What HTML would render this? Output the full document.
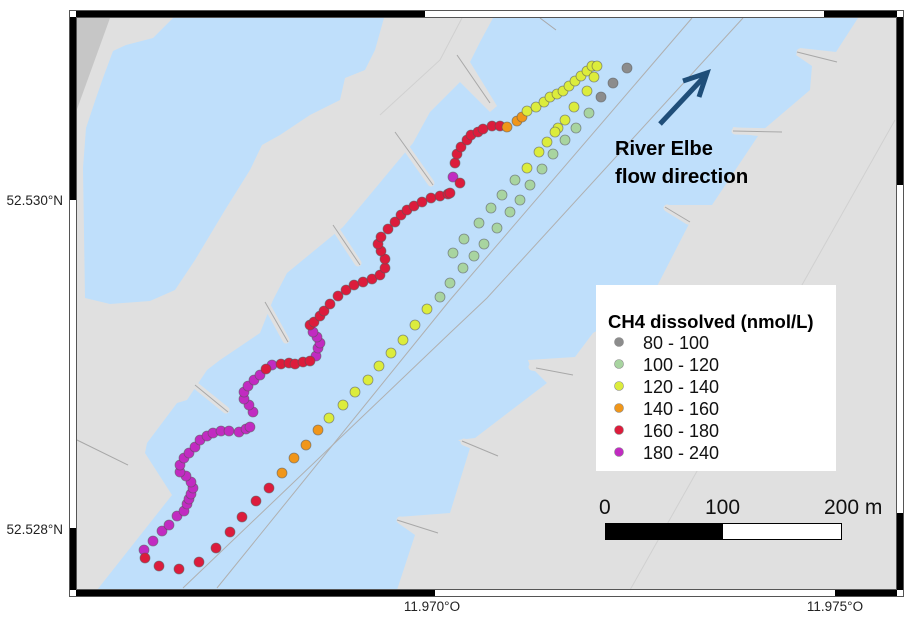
<!DOCTYPE html>
<html><head><meta charset="utf-8"><style>
html,body{margin:0;padding:0;background:#fff;}
svg{display:block;}
text{font-family:"Liberation Sans",sans-serif;}
</style></head><body>
<svg width="914" height="621" viewBox="0 0 914 621" xmlns="http://www.w3.org/2000/svg">
<rect width="914" height="621" fill="#fff"/>
<!-- map area -->
<rect x="76" y="17" width="821" height="573" fill="#e0e0e0"/>
<polygon points="76,18 110,18 76,112" fill="#c6c6c6"/>
<!-- left lake -->
<polygon points="173,18 384,18 375,50 365,70 345,78 340,100 310,115 280,135 262,145 250,170 225,210 195,260 175,290 150,301 110,304 85,298 83,168 86,128 96,98 103,78 113,51 126,45 153,38" fill="#bfdffb"/>
<!-- river -->
<polygon points="97,590 172,495 145,453 147,443 177,403 187,400 207,370 220,360 260,333 273,300 287,273 343,227 413,143 430,112 460,82 490,112 497,106 470,62 480,42 493,18 858,18 836,52 800,48 796,55 812,66 810,90 763,130 733,127 733,133 758,136 712,205 665,205 690,222 650,300 593,333 575,357 528,360 530,366 547,383 475,438 458,440 470,448 450,513 398,517 398,523 415,535 397,590" fill="#bfdffb"/>
<!-- groin wedges -->
<g stroke="#e0e0e0" stroke-width="7" stroke-linecap="round" fill="none">
<line x1="395" y1="132" x2="431" y2="183"/>
<line x1="333" y1="225" x2="358" y2="263"/>
<line x1="265" y1="302" x2="286" y2="340"/>
<line x1="195" y1="385" x2="226" y2="410"/>
<line x1="800" y1="52" x2="835" y2="61"/>
<line x1="735" y1="131" x2="780" y2="132"/>
<line x1="667" y1="208" x2="688" y2="221"/>
<line x1="532" y1="367" x2="571" y2="374"/>
<line x1="464" y1="442" x2="496" y2="455"/>
<line x1="400" y1="520" x2="436" y2="532"/>
</g>
<g stroke="#a8a8a8" stroke-width="1" fill="none">
<line x1="457" y1="55" x2="490" y2="103"/>
<line x1="395" y1="132" x2="433" y2="185"/>
<line x1="333" y1="225" x2="360" y2="265"/>
<line x1="265" y1="302" x2="288" y2="342"/>
<line x1="195" y1="385" x2="228" y2="412"/>
<line x1="797" y1="52" x2="837" y2="62"/>
<line x1="733" y1="131" x2="782" y2="132"/>
<line x1="665" y1="207" x2="690" y2="222"/>
<line x1="536" y1="368" x2="573" y2="375"/>
<line x1="462" y1="441" x2="498" y2="456"/>
<line x1="397" y1="520" x2="438" y2="533"/>
<line x1="77" y1="440" x2="128" y2="465"/>
<line x1="540" y1="18" x2="556" y2="30"/>
</g>
<g stroke="#b0b0b0" stroke-width="1" fill="none">
<polyline points="183,588 450,333 487,298 743,18"/>
<polyline points="217,588 450,300 692,18"/>
<polyline points="630,590 895,120" stroke="#d0d0d0"/>
<polyline points="380,115 440,60 462,18" stroke="#d0d0d0"/>
</g>
<!-- arrow -->
<g stroke="#1f4e79" stroke-width="5" fill="none" stroke-linecap="butt">
<line x1="660" y1="124" x2="705" y2="76"/>
<polyline points="683,81 707,73 699,97"/>
</g>
<text x="615" y="155" font-size="20" font-weight="bold" fill="#000">River Elbe</text>
<text x="615" y="183" font-size="20.5" font-weight="bold" fill="#000">flow direction</text>
<!-- dots -->
<g stroke="#555" stroke-opacity="0.6" stroke-width="0.8">
<g fill="#c12bc1">
<circle cx="144" cy="550" r="5"/><circle cx="153" cy="541" r="5"/><circle cx="162" cy="531" r="5"/><circle cx="169" cy="525" r="5"/><circle cx="177" cy="516" r="5"/><circle cx="184" cy="511" r="5"/><circle cx="187" cy="504" r="5"/><circle cx="189" cy="499" r="5"/><circle cx="191" cy="494" r="5"/><circle cx="193" cy="488" r="5"/><circle cx="191" cy="482" r="5"/><circle cx="186" cy="476" r="5"/><circle cx="180" cy="472" r="5"/><circle cx="180" cy="465" r="5"/><circle cx="184" cy="458" r="5"/><circle cx="189" cy="453" r="5"/><circle cx="195" cy="447" r="5"/><circle cx="200" cy="440" r="5"/><circle cx="207" cy="436" r="5"/><circle cx="213" cy="433" r="5"/><circle cx="221" cy="431" r="5"/><circle cx="229" cy="431" r="5"/><circle cx="239" cy="432" r="5"/><circle cx="246" cy="429" r="5"/><circle cx="250" cy="427" r="5"/><circle cx="253" cy="412" r="5"/><circle cx="249" cy="405" r="5"/><circle cx="244" cy="399" r="5"/><circle cx="244" cy="392" r="5"/><circle cx="248" cy="386" r="5"/><circle cx="254" cy="380" r="5"/><circle cx="260" cy="375" r="5"/><circle cx="272" cy="365" r="5"/>
<circle cx="316" cy="356" r="5"/><circle cx="318" cy="348" r="5"/><circle cx="320" cy="343" r="5"/><circle cx="317" cy="337" r="5"/><circle cx="313" cy="332" r="5"/><circle cx="453" cy="177" r="5"/>
</g>
<g fill="#dc1c3c">
<circle cx="266" cy="369" r="5"/><circle cx="281" cy="364" r="5"/><circle cx="289" cy="363" r="5"/><circle cx="295" cy="364" r="5"/><circle cx="303" cy="362" r="5"/><circle cx="310" cy="361" r="5"/>
<circle cx="310" cy="325" r="5"/><circle cx="314" cy="322" r="5"/><circle cx="320" cy="316" r="5"/><circle cx="324" cy="311" r="5"/><circle cx="330" cy="304" r="5"/>
<circle cx="145" cy="558" r="5"/><circle cx="159" cy="566" r="5"/><circle cx="179" cy="569" r="5"/><circle cx="199" cy="562" r="5"/><circle cx="216" cy="548" r="5"/><circle cx="230" cy="532" r="5"/><circle cx="242" cy="517" r="5"/><circle cx="256" cy="501" r="5"/><circle cx="269" cy="488" r="5"/>
<circle cx="338" cy="296" r="5"/><circle cx="346" cy="290" r="5"/><circle cx="354" cy="285" r="5"/><circle cx="363" cy="282" r="5"/><circle cx="372" cy="279" r="5"/><circle cx="380" cy="275" r="5"/><circle cx="385" cy="268" r="5"/><circle cx="385" cy="259" r="5"/><circle cx="381" cy="251" r="5"/><circle cx="378" cy="244" r="5"/><circle cx="381" cy="237" r="5"/><circle cx="388" cy="229" r="5"/><circle cx="395" cy="222" r="5"/><circle cx="401" cy="215" r="5"/><circle cx="407" cy="210" r="5"/><circle cx="414" cy="206" r="5"/><circle cx="422" cy="202" r="5"/><circle cx="431" cy="198" r="5"/><circle cx="440" cy="196" r="5"/><circle cx="448" cy="194" r="5"/><circle cx="450" cy="193" r="5"/><circle cx="460" cy="183" r="5"/><circle cx="455" cy="163" r="5"/><circle cx="457" cy="154" r="5"/><circle cx="461" cy="147" r="5"/><circle cx="467" cy="140" r="5"/><circle cx="471" cy="135" r="5"/><circle cx="478" cy="132" r="5"/><circle cx="483" cy="129" r="5"/><circle cx="492" cy="126" r="5"/><circle cx="500" cy="126" r="5"/>
</g>
<g fill="#f0961a">
<circle cx="282" cy="473" r="5"/><circle cx="294" cy="458" r="5"/><circle cx="306" cy="445" r="5"/><circle cx="318" cy="430" r="5"/>
<circle cx="507" cy="127" r="5"/><circle cx="517" cy="121" r="5"/><circle cx="522" cy="117" r="5"/>
</g>
<g fill="#dcec3c">
<circle cx="329" cy="418" r="5"/><circle cx="343" cy="405" r="5"/><circle cx="355" cy="392" r="5"/><circle cx="368" cy="380" r="5"/><circle cx="379" cy="366" r="5"/><circle cx="391" cy="353" r="5"/><circle cx="403" cy="340" r="5"/><circle cx="415" cy="325" r="5"/><circle cx="427" cy="309" r="5"/>
<circle cx="527" cy="111" r="5"/><circle cx="536" cy="107" r="5"/><circle cx="544" cy="102" r="5"/><circle cx="550" cy="97" r="5"/><circle cx="557" cy="94" r="5"/><circle cx="563" cy="91" r="5"/><circle cx="569" cy="86" r="5"/><circle cx="575" cy="81" r="5"/><circle cx="581" cy="76" r="5"/><circle cx="587" cy="71" r="5"/><circle cx="592" cy="66" r="5"/><circle cx="597" cy="66" r="5"/>
<circle cx="594" cy="77" r="5"/><circle cx="587" cy="91" r="5"/><circle cx="574" cy="107" r="5"/><circle cx="565" cy="120" r="5"/><circle cx="558" cy="128" r="5"/><circle cx="555" cy="132" r="5"/><circle cx="547" cy="142" r="5"/><circle cx="539" cy="152" r="5"/><circle cx="527" cy="168" r="5"/>
</g>
<g fill="#a8d4a0">
<circle cx="589" cy="113" r="5"/><circle cx="576" cy="128" r="5"/><circle cx="565" cy="140" r="5"/><circle cx="553" cy="154" r="5"/><circle cx="542" cy="169" r="5"/><circle cx="530" cy="185" r="5"/><circle cx="515" cy="180" r="5"/><circle cx="502" cy="195" r="5"/><circle cx="520" cy="200" r="5"/><circle cx="491" cy="208" r="5"/><circle cx="510" cy="212" r="5"/><circle cx="479" cy="223" r="5"/><circle cx="497" cy="228" r="5"/><circle cx="464" cy="239" r="5"/><circle cx="484" cy="244" r="5"/><circle cx="453" cy="253" r="5"/><circle cx="474" cy="256" r="5"/><circle cx="463" cy="268" r="5"/><circle cx="450" cy="283" r="5"/><circle cx="440" cy="297" r="5"/>
</g>
<g fill="#8c8c8c">
<circle cx="627" cy="68" r="5"/><circle cx="613" cy="83" r="5"/><circle cx="601" cy="97" r="5"/>
</g>
</g>
<!-- legend -->
<rect x="596" y="285" width="240" height="186" fill="#fff"/>
<text x="608" y="328" font-size="18.5" font-weight="bold">CH4 dissolved (nmol/L)</text>
<g stroke="#888" stroke-width="0.6">
<circle cx="619" cy="342" r="4.5" fill="#8c8c8c"/>
<circle cx="619" cy="364" r="4.5" fill="#a8d4a0"/>
<circle cx="619" cy="386" r="4.5" fill="#dcec3c"/>
<circle cx="619" cy="408" r="4.5" fill="#f0961a"/>
<circle cx="619" cy="430" r="4.5" fill="#dc1c3c"/>
<circle cx="619" cy="452" r="4.5" fill="#c12bc1"/>
</g>
<g font-size="18" fill="#111">
<text x="643" y="349">80 - 100</text>
<text x="643" y="371">100 - 120</text>
<text x="643" y="393">120 - 140</text>
<text x="643" y="415">140 - 160</text>
<text x="643" y="437">160 - 180</text>
<text x="643" y="459">180 - 240</text>
</g>
<!-- scale bar -->
<g font-size="21" fill="#111">
<text x="599" y="514">0</text>
<text x="705" y="514">100</text>
<text x="824" y="514">200 m</text>
</g>
<rect x="605.5" y="523.5" width="236" height="16" fill="#fff" stroke="#000" stroke-width="1"/>
<rect x="605" y="523" width="118" height="17" fill="#000"/>
<!-- frame -->
<rect x="69.5" y="10.5" width="834" height="586" fill="none" stroke="#555" stroke-width="1"/>
<rect x="76.5" y="17.5" width="820" height="572" fill="none" stroke="#555" stroke-width="1"/>
<g fill="#000">
<rect x="76" y="11" width="349" height="6"/>
<rect x="824" y="11" width="73" height="6"/>
<rect x="70" y="17" width="6" height="183"/>
<rect x="70" y="528" width="6" height="62"/>
<rect x="76" y="590" width="359" height="6"/>
<rect x="835" y="590" width="62" height="6"/>
<rect x="897" y="17" width="6" height="168"/>
<rect x="897" y="513" width="6" height="77"/>
</g>
<g font-size="13.5" fill="#222">
<text x="63" y="205" text-anchor="end">52.530°N</text>
<text x="63" y="534" text-anchor="end">52.528°N</text>
<text x="432" y="611" text-anchor="middle">11.970°O</text>
<text x="835" y="611" text-anchor="middle">11.975°O</text>
</g>
</svg>
</body></html>
